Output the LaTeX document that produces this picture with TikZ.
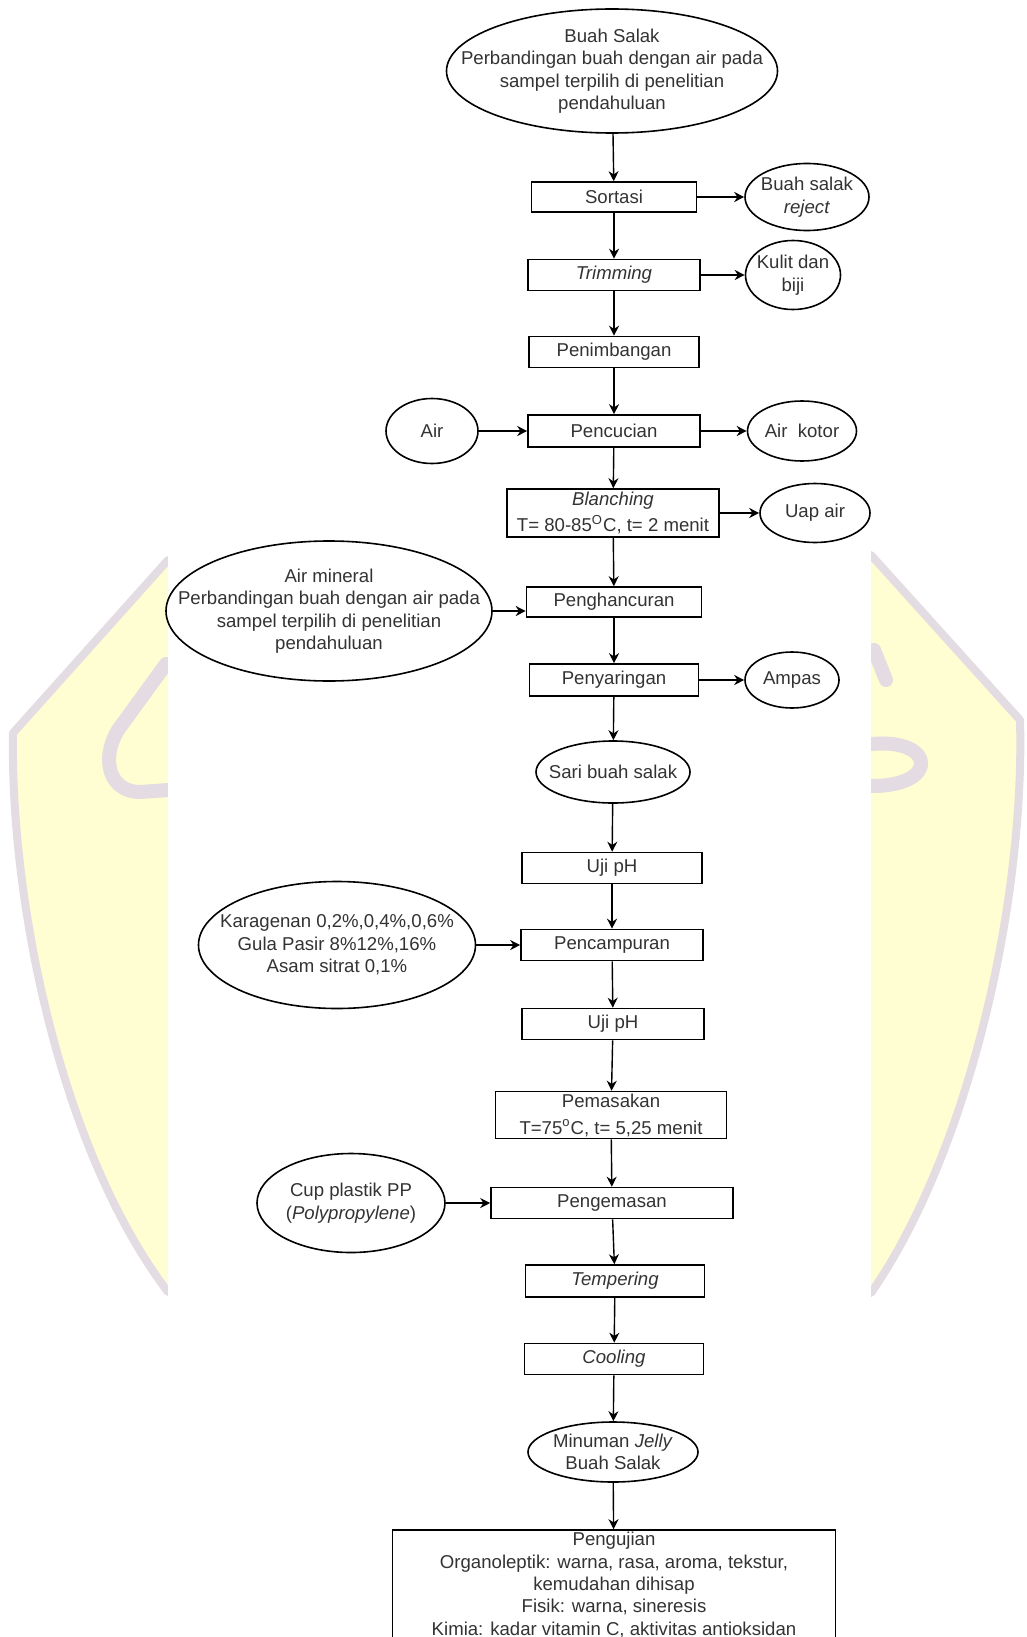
\documentclass[tikz,border=0pt]{standalone}
\usepackage{fontspec}
\setmainfont{Liberation Sans}
\usetikzlibrary{arrows.meta,shapes.geometric}
\definecolor{inkgray}{RGB}{51,51,51}
\definecolor{paleyellow}{RGB}{255,253,210}
\definecolor{crestgray}{RGB}{227,220,227}
\newcommand{\flowfont}{\fontsize{9.3pt}{11.2pt}\selectfont}
\tikzset{
  >={Stealth[length=5pt,width=5pt]},
  stepbox/.style={draw=black,line width=0.8pt,rectangle,inner sep=0.5pt,align=center,
    font=\flowfont,text=inkgray,minimum height=15.5pt},
  blobtext/.style={draw=none,font=\flowfont,text=inkgray,align=center,inner sep=0pt},
  blob/.style={draw=black,line width=0.8pt,ellipse,inner sep=0pt,
    label={[blobtext]center:{#1}}},
  flow/.style={->,line width=0.7pt,draw=black},
  crest/.style={draw=crestgray,line width=4pt,line cap=round,line join=round},
}

\begin{document}
\begin{tikzpicture}[x=0.5pt,y=-0.5pt]
  \useasboundingbox (0,0) rectangle (1027,1637);
  \clip (0,0) rectangle (1027,1637);
  % watermark behind the chart
  \filldraw[crest,fill=paleyellow] (168,560) -- (13,733) .. controls (10,900) and (60,1150) .. (168,1292)
    -- (871,1293) .. controls (970,1150) and (1025,900) .. (1020,720) -- (871,555) -- cycle;
  \draw[crest,line width=7pt] (166,664) -- (118,730) .. controls (100,760) and (110,792) .. (140,792) -- (168,790);
  \draw[crest,line width=7pt] (872,744) .. controls (935,738) and (940,786) .. (872,786);
  \draw[crest,line width=7pt] (874,650) -- (886,680);
  \fill[white] (168,0) rectangle (871,1637);

  % main column
  \node[blob={Buah Salak\\Perbandingan buah dengan air pada\\sampel terpilih di penelitian\\pendahuluan},
    minimum width=165.5pt,minimum height=62pt] (buah) at (612,71) {};
  \node[stepbox,minimum width=82.5pt,minimum height=15pt] (sortasi) at (614,197) {Sortasi};
  \node[stepbox,minimum width=86pt] (trim) at (614,275) {\textit{Trimming}};
  \node[stepbox,minimum width=85pt] (timbang) at (614,352) {Penimbangan};
  \node[stepbox,minimum width=86pt,minimum height=16pt] (cuci) at (614,431) {Pencucian};
  \node[stepbox,minimum width=106pt,minimum height=24pt] (blanch) at (613,513)
    {\textit{Blanching}\\[2pt]T= 80-85\textsuperscript{O}C, t= 2 menit};
  \node[stepbox,minimum width=87.5pt,minimum height=15pt] (hancur) at (614,602) {Penghancuran};
  \node[stepbox,minimum width=84.5pt,minimum height=16pt] (saring) at (614,680) {Penyaringan};
  \node[blob={Sari buah salak},minimum width=77pt,minimum height=31pt] (sari) at (613,772) {};
  \node[stepbox,minimum width=90pt] (ujia) at (612,868) {Uji pH};
  \node[stepbox,minimum width=91pt] (campur) at (612,945) {Pencampuran};
  \node[stepbox,minimum width=91pt] (ujib) at (613,1024) {Uji pH};
  \node[stepbox,minimum width=115.5pt,minimum height=23.5pt] (masak) at (611,1115)
    {Pemasakan\\[2.3pt]T=75\textsuperscript{o}C, t= 5,25 menit};
  \node[stepbox,minimum width=121pt] (kemas) at (612,1203) {Pengemasan};
  \node[stepbox,minimum width=89.5pt,minimum height=16pt] (temper) at (615,1281) {\textit{Tempering}};
  \node[stepbox,minimum width=89.5pt] (cool) at (614,1359) {\textit{Cooling}};
  \node[blob={Minuman \textit{Jelly}\\Buah Salak},minimum width=85pt,minimum height=30pt] (jelly) at (613,1452) {};
  \node[stepbox,minimum width=221.5pt,minimum height=55pt] (uji) at (614,1585)
    {Pengujian\\Organoleptik: warna, rasa, aroma, tekstur,\\kemudahan dihisap\\Fisik: warna, sineresis\\Kimia: kadar vitamin C, aktivitas antioksidan};

  % side inputs and outputs
  \node[blob={Buah salak\\\textit{reject}},minimum width=62pt,minimum height=33.5pt] (reject) at (807,197) {};
  \node[blob={Kulit dan\\biji},minimum width=47.5pt,minimum height=34.5pt] (kulit) at (793,275) {};
  \node[blob={Air},minimum width=46pt,minimum height=32.5pt] (air) at (432,431) {};
  \node[blob={Air\ \ kotor},minimum width=54.5pt,minimum height=30pt] (kotor) at (802,431) {};
  \node[blob={Uap air},minimum width=55pt,minimum height=29.5pt] (uap) at (815,513) {};
  \node[blob={Air mineral\\Perbandingan buah dengan air pada\\sampel terpilih di penelitian\\pendahuluan},
    minimum width=163pt,minimum height=70pt] (mineral) at (329,611) {};
  \node[blob={Ampas},minimum width=47pt,minimum height=28pt] (ampas) at (792,680) {};
  \node[blob={Karagenan 0,2\%,0,4\%,0,6\%\\Gula Pasir 8\%12\%,16\%\\Asam sitrat 0,1\%},
    minimum width=138.5pt,minimum height=63.5pt] (kara) at (337,945) {};
  \node[blob={Cup plastik PP\\(\textit{Polypropylene})},minimum width=94pt,minimum height=49.5pt] (cup) at (351,1203) {};

  \foreach \a/\b in {buah/sortasi,sortasi/trim,trim/timbang,timbang/cuci,cuci/blanch,
    blanch/hancur,hancur/saring,saring/sari,sari/ujia,ujia/campur,campur/ujib,ujib/masak,
    masak/kemas,kemas/temper,temper/cool,cool/jelly,jelly/uji}
    \draw[flow] (\a) -- (\b);
  \foreach \a/\b in {sortasi/reject,trim/kulit,air/cuci,cuci/kotor,blanch/uap,
    saring/ampas,kara/campur,cup/kemas}
    \draw[flow] (\a) -- (\b);
  \draw[flow] (mineral.east) -- (mineral.east -| hancur.west);
\end{tikzpicture}
\end{document}
